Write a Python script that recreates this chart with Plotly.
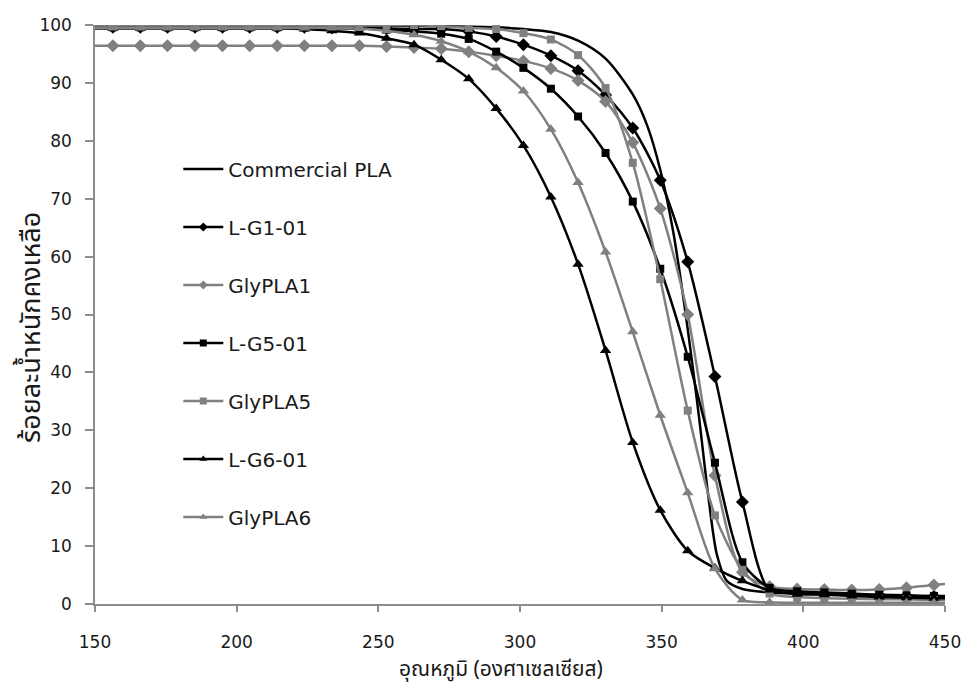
import plotly.graph_objects as go

# Temperature grid (°C) shared by the marked series
temps = [146.6, 156.3, 166.0, 175.6, 185.3, 195.0, 204.6, 214.3, 223.9, 233.6,
         243.3, 252.9, 262.6, 272.2, 281.9, 291.6, 301.2, 310.9, 320.5, 330.2,
         339.8, 349.5, 359.2, 368.8, 378.5, 388.1, 397.8, 407.4, 417.1, 426.8,
         436.4, 446.1, 455.7]

# Commercial PLA is drawn as a plain smoothed line on its own grid
commercial_t = [146.6, 156.3, 175.6, 195.0, 214.3, 233.6, 252.9, 272.2, 291.6,
                301.2, 310.9, 320.5, 330.2, 339.8, 345.0, 349.5, 354.0, 359.2,
                363.0, 366.5, 369.5, 373.0, 378.5, 388.1, 397.8, 417.1, 436.4,
                446.1, 455.7]
commercial_w = [99.9, 99.9, 99.9, 99.9, 99.9, 99.9, 99.9, 99.8, 99.6,
                99.3, 98.8, 97.3, 94.2, 88.0, 82.5, 75.0, 64.5, 47.5,
                33.0, 18.5, 8.5, 4.0, 2.6, 2.0, 1.8, 1.6, 1.4,
                1.3, 1.2]

lg1_01 = [99.6, 99.6, 99.6, 99.6, 99.6, 99.6, 99.6, 99.6, 99.6, 99.5,
          99.5, 99.4, 99.3, 99.3, 98.9, 98.0, 96.6, 94.7, 92.1, 87.9,
          82.2, 73.2, 59.1, 39.3, 17.6, 2.4, 2.0, 1.8, 1.6, 1.5,
          1.4, 1.3, 1.3]
glypla1 = [96.4, 96.4, 96.4, 96.4, 96.4, 96.4, 96.4, 96.4, 96.4, 96.4,
           96.4, 96.3, 96.1, 95.9, 95.4, 94.7, 93.8, 92.5, 90.4, 86.8,
           79.7, 68.3, 50.0, 22.2, 5.5, 3.0, 2.6, 2.5, 2.4, 2.5,
           2.8, 3.3, 3.6]
lg5_01 = [99.6, 99.6, 99.6, 99.6, 99.6, 99.6, 99.6, 99.6, 99.6, 99.5,
          99.4, 99.2, 98.9, 98.5, 97.6, 95.4, 92.6, 89.0, 84.2, 77.9,
          69.5, 57.9, 42.7, 24.4, 7.2, 2.8, 2.2, 2.0, 1.8, 1.6,
          1.5, 1.4, 1.4]
glypla5 = [99.9, 99.9, 99.9, 99.9, 99.9, 99.9, 99.9, 99.9, 99.9, 99.9,
           99.9, 100.0, 100.0, 99.8, 99.5, 99.3, 98.6, 97.5, 94.8, 89.1,
           76.2, 56.1, 33.4, 15.3, 5.9, 1.8, 1.2, 1.0, 0.9, 0.8,
           0.8, 0.7, 0.7]
lg6_01 = [99.4, 99.4, 99.4, 99.4, 99.4, 99.4, 99.4, 99.4, 99.3, 99.0,
          98.6, 97.7, 96.6, 94.0, 90.7, 85.6, 79.2, 70.3, 58.7, 43.8,
          27.9, 16.2, 9.2, 6.2, 4.0, 2.4, 1.7, 1.6, 1.4, 1.2,
          1.1, 1.0, 1.0]
glypla6 = [99.5, 99.5, 99.5, 99.5, 99.5, 99.5, 99.5, 99.5, 99.5, 99.5,
           99.4, 99.0, 98.3, 97.2, 95.4, 92.6, 88.6, 82.0, 72.8, 60.8,
           47.0, 32.6, 19.2, 6.1, 0.7, 0.3, 0.2, 0.2, 0.2, 0.2,
           0.2, 0.2, 0.2]

x_ticks = [150, 200, 250, 300, 350, 400, 450]
y_ticks = [0, 10, 20, 30, 40, 50, 60, 70, 80, 90, 100]

BLACK = "#000000"
GREY = "#808080"
AXIS = "#8c8c8c"
TEXT = "#1a1a1a"
THAI_FONT = "Noto Sans Thai, Noto Sans Thai UI, Loma, Garuda, Tahoma, Noto Sans, DejaVu Sans, sans-serif"

series = [
    ("L-G1-01", lg1_01, BLACK, "diamond", 10),
    ("GlyPLA1", glypla1, GREY, "diamond", 10),
    ("L-G5-01", lg5_01, BLACK, "square", 8),
    ("GlyPLA5", glypla5, GREY, "square", 8),
    ("L-G6-01", lg6_01, BLACK, "triangle-up", 10),
    ("GlyPLA6", glypla6, GREY, "triangle-up", 10),
]

fig = go.Figure()

# plotted curves (legend entries are added separately with smaller symbols)
fig.add_trace(go.Scatter(
    x=commercial_t, y=commercial_w, name="Commercial PLA", mode="lines",
    line=dict(color=BLACK, width=2.5, shape="spline", smoothing=0.8),
    showlegend=False,
))
for name, vals, col, sym, size in series:
    fig.add_trace(go.Scatter(
        x=temps, y=vals, name=name, mode="lines+markers",
        line=dict(color=col, width=2.5, shape="spline", smoothing=0.8),
        marker=dict(symbol=sym, size=size, color=col, line=dict(width=0)),
        showlegend=False,
    ))

# legend keys
fig.add_trace(go.Scatter(
    x=[None], y=[None], name="Commercial PLA", mode="lines",
    line=dict(color=BLACK, width=2.5), legendgroup="g0",
))
for k, (name, vals, col, sym, size) in enumerate(series, start=1):
    fig.add_trace(go.Scatter(
        x=[None], y=[None], name=name, mode="lines+markers",
        line=dict(color=col, width=2.5),
        marker=dict(symbol=sym, size=7, color=col, line=dict(width=0)),
        legendgroup=f"g{k}",
    ))

fig.update_layout(
    width=973, height=685,
    margin=dict(l=95, r=18, t=25, b=81),
    paper_bgcolor="white", plot_bgcolor="white",
    font=dict(family="DejaVu Sans, sans-serif", size=17, color=TEXT),
    showlegend=True,
    legend=dict(
        x=0.098, y=0.785, xanchor="left", yanchor="top",
        bgcolor="rgba(0,0,0,0)", borderwidth=0,
        font=dict(family="DejaVu Sans, sans-serif", size=20, color=TEXT),
        itemwidth=40, tracegroupgap=29, traceorder="grouped",
    ),
    xaxis=dict(
        range=[150, 450], tickvals=x_ticks, ticktext=[str(v) for v in x_ticks],
        showline=True, linecolor=AXIS, linewidth=1.5, mirror=False,
        ticks="outside", ticklen=6, tickcolor=AXIS, tickwidth=1.5,
        showgrid=False, zeroline=False, ticklabelstandoff=16,
    ),
    yaxis=dict(
        range=[0, 100], tickvals=y_ticks, ticktext=[str(v) for v in y_ticks],
        showline=True, linecolor=AXIS, linewidth=1.5, mirror=False,
        ticks="outside", ticklen=8, tickcolor=AXIS, tickwidth=1.5,
        showgrid=False, zeroline=False, ticklabelstandoff=10,
    ),
    annotations=[
        dict(text="อุณหภูมิ (องศาเซลเซียส)", xref="paper", yref="paper",
             x=0.478, y=-0.1125, xanchor="center", yanchor="middle",
             showarrow=False, font=dict(family=THAI_FONT, size=21, color=TEXT)),
        dict(text="ร้อยละน้ำหนักคงเหลือ", xref="paper", yref="paper",
             x=-0.074, y=0.477, xanchor="center", yanchor="middle", textangle=-90,
             showarrow=False, font=dict(family=THAI_FONT, size=27, color=TEXT)),
    ],
)

fig.write_html("out.html")
